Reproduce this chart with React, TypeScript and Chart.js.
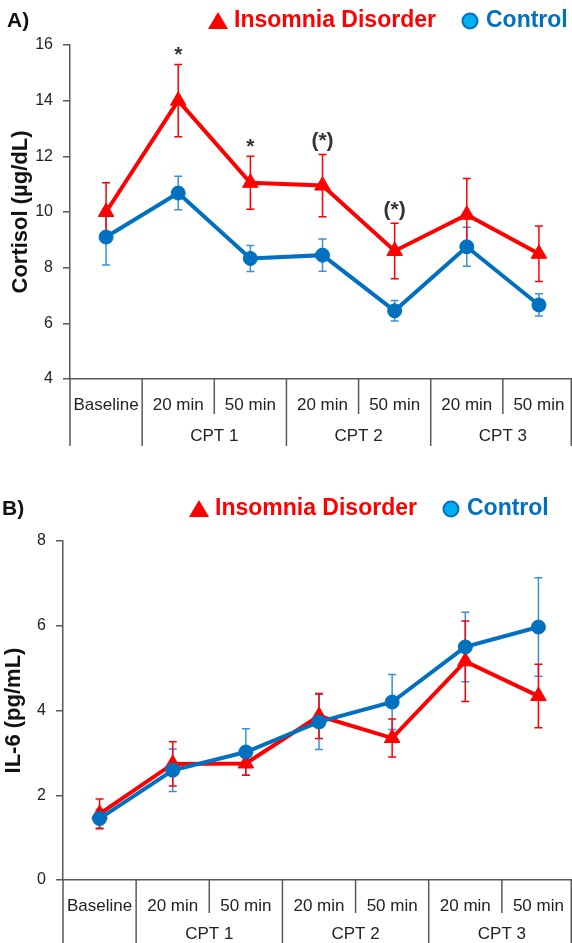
import React, { useEffect, useRef } from "react";
import { Chart, registerables } from "chart.js";

Chart.register(...registerables);

const FONT = "'Liberation Sans', Arial, Helvetica, sans-serif";
Chart.defaults.font.family = FONT;

// ---- data ----
const timepoints = ["Baseline", "20 min", "50 min", "20 min", "50 min", "20 min", "50 min"];
const phases = ["", "CPT 1", "CPT 1", "CPT 2", "CPT 2", "CPT 3", "CPT 3"];

const cortisolInsomnia = [10.0, 14.0, 11.05, 10.95, 8.6, 9.9, 8.5];
const cortisolInsomniaErr = [1.05, 1.3, 0.95, 1.12, 1.0, 1.3, 1.0];
const cortisolControl = [9.1, 10.68, 8.33, 8.45, 6.45, 8.75, 6.66];
const cortisolControlErr = [1.0, 0.6, 0.47, 0.58, 0.37, 0.7, 0.4];
const cortisolSig = ["", "*", "*", "(*)", "(*)", "", ""];
const cortisolRange = [4, 16, 2];

const il6Insomnia = [1.56, 2.74, 2.75, 3.87, 3.35, 5.16, 4.34];
const il6InsomniaErr = [0.35, 0.52, 0.28, 0.53, 0.45, 0.95, 0.75];
const il6Control = [1.45, 2.59, 3.02, 3.73, 4.2, 5.5, 5.97];
const il6ControlErr = [0.22, 0.5, 0.55, 0.65, 0.65, 0.82, 1.16];
const il6Sig = ["", "", "", "", "", "", ""];
const il6Range = [0, 8, 2];

const legendInsomnia = "Insomnia Disorder";
const legendControl = "Control";

// ---- styles ----
const RED = "#ff0000";
const BLUE = "#0070c0";
const BLUE_ERR = "#3d8fd9";
const LEGEND_CIRCLE = "#00b0f0";
const AXIS = "#595959";
const TEXT = "#222222";

type Panel = {
  tag: string;
  yTitle: string;
  insomnia: number[];
  insomniaErr: number[];
  control: number[];
  controlErr: number[];
  sig: string[];
  range: number[];
  height: number;
  padTop: number;
  yWidth: number;
  xHeight: number;
  titlePad: number;
  row1: number;
  row2: number;
  shortEnd: number;
  longEnd: number;
  legendDx: number;
  legendY: number;
  tagX: number;
};

const panels: Panel[] = [
  {
    tag: "A)",
    yTitle: "Cortisol (µg/dL)",
    insomnia: cortisolInsomnia,
    insomniaErr: cortisolInsomniaErr,
    control: cortisolControl,
    controlErr: cortisolControlErr,
    sig: cortisolSig,
    range: cortisolRange,
    height: 470,
    padTop: 45,
    yWidth: 70,
    xHeight: 91,
    titlePad: 8,
    row1: 26,
    row2: 57,
    shortEnd: 35,
    longEnd: 67,
    legendDx: 0,
    legendY: 21,
    tagX: 7,
  },
  {
    tag: "B)",
    yTitle: "IL-6 (pg/mL)",
    insomnia: il6Insomnia,
    insomniaErr: il6InsomniaErr,
    control: il6Control,
    controlErr: il6ControlErr,
    sig: il6Sig,
    range: il6Range,
    height: 473,
    padTop: 71,
    yWidth: 63,
    xHeight: 63,
    titlePad: 1,
    row1: 26,
    row2: 54,
    shortEnd: 33,
    longEnd: 63,
    legendDx: -19,
    legendY: 39,
    tagX: 2,
  },
];

function makeDecor(p: Panel) {
  return {
    id: "panelDecor",
    beforeDatasetsDraw(chart: any) {
      const ctx = chart.ctx;
      const ys = chart.scales.y;
      chart.data.datasets.forEach((ds: any, i: number) => {
        const meta = chart.getDatasetMeta(i);
        ctx.save();
        ctx.strokeStyle = ds.errColor;
        ctx.lineWidth = 1.5;
        meta.data.forEach((el: any, j: number) => {
          const v = ds.data[j];
          const e = ds.errors[j];
          const x = el.x;
          const t = ys.getPixelForValue(v + e);
          const b = ys.getPixelForValue(v - e);
          ctx.beginPath();
          ctx.moveTo(x, t);
          ctx.lineTo(x, b);
          ctx.moveTo(x - 4, t);
          ctx.lineTo(x + 4, t);
          ctx.moveTo(x - 4, b);
          ctx.lineTo(x + 4, b);
          ctx.stroke();
        });
        ctx.restore();
      });
    },
    afterDraw(chart: any) {
      const ctx = chart.ctx;
      const ca = chart.chartArea;
      const xs = chart.scales.x;
      const ys = chart.scales.y;
      const n = timepoints.length;
      ctx.save();

      // category separators
      ctx.strokeStyle = AXIS;
      ctx.lineWidth = 1.5;
      for (let i = 0; i <= n; i++) {
        let px =
          i === 0
            ? ca.left
            : i === n
            ? ca.right
            : (xs.getPixelForValue(i - 1) + xs.getPixelForValue(i)) / 2;
        px = Math.min(px, 571.25);
        const long = i === 0 || i === n || phases[i] !== phases[i - 1];
        ctx.beginPath();
        ctx.moveTo(px, ca.bottom);
        ctx.lineTo(px, ca.bottom + (long ? p.longEnd : p.shortEnd));
        ctx.stroke();
      }

      // first row labels
      ctx.fillStyle = TEXT;
      ctx.font = `17px ${FONT}`;
      ctx.textAlign = "center";
      ctx.textBaseline = "middle";
      timepoints.forEach((t, i) => {
        ctx.fillText(t, xs.getPixelForValue(i), ca.bottom + p.row1);
      });
      // group labels
      const groups = Array.from(new Set(phases.filter((g) => g)));
      groups.forEach((g) => {
        const idx = phases.map((ph, i) => (ph === g ? i : -1)).filter((i) => i >= 0);
        const cx = (xs.getPixelForValue(idx[0]) + xs.getPixelForValue(idx[idx.length - 1])) / 2;
        ctx.fillText(g, cx, ca.bottom + p.row2);
      });

      // significance marks above insomnia error bars
      ctx.fillStyle = "#333333";
      ctx.font = `bold 21px ${FONT}`;
      ctx.textBaseline = "alphabetic";
      p.sig.forEach((s, i) => {
        if (!s) return;
        const top = ys.getPixelForValue(p.insomnia[i] + p.insomniaErr[i]);
        ctx.fillText(s, xs.getPixelForValue(i), top - (s.length > 1 ? 7 : 3));
      });

      // panel tag
      ctx.fillStyle = "#111111";
      ctx.font = `bold 21px ${FONT}`;
      ctx.textAlign = "left";
      ctx.textBaseline = "middle";
      ctx.fillText(p.tag, p.tagX, p.legendY);

      // legend
      const dx = p.legendDx;
      const ly = p.legendY;
      ctx.fillStyle = RED;
      ctx.beginPath();
      ctx.moveTo(218 + dx, ly - 9);
      ctx.lineTo(228 + dx, ly + 8);
      ctx.lineTo(208 + dx, ly + 8);
      ctx.closePath();
      ctx.fill();
      ctx.font = `bold 23px ${FONT}`;
      ctx.fillText(legendInsomnia, 234 + dx, ly);

      ctx.beginPath();
      ctx.arc(470 + dx, ly, 7.5, 0, Math.PI * 2);
      ctx.fillStyle = LEGEND_CIRCLE;
      ctx.fill();
      ctx.strokeStyle = BLUE;
      ctx.lineWidth = 2;
      ctx.stroke();
      ctx.fillStyle = BLUE;
      ctx.fillText(legendControl, 486 + dx, ly);

      ctx.restore();
    },
  };
}

function buildChart(canvas: HTMLCanvasElement, p: Panel) {
  const [min, max, step] = p.range;
  return new Chart(canvas, {
    type: "line",
    data: {
      labels: timepoints,
      datasets: [
        {
          label: legendControl,
          data: p.control,
          errors: p.controlErr,
          errColor: BLUE_ERR,
          borderColor: BLUE,
          backgroundColor: BLUE,
          pointBackgroundColor: BLUE,
          pointBorderColor: BLUE,
          pointStyle: "circle",
          pointRadius: 7,
          pointBorderWidth: 1,
          borderWidth: 4,
          tension: 0,
          clip: false,
        } as any,
        {
          label: legendInsomnia,
          data: p.insomnia,
          errors: p.insomniaErr,
          errColor: RED,
          borderColor: RED,
          backgroundColor: RED,
          pointBackgroundColor: RED,
          pointBorderColor: RED,
          pointStyle: "triangle",
          pointRadius: 9,
          pointBorderWidth: 1,
          borderWidth: 4,
          tension: 0,
          clip: false,
        } as any,
      ],
    },
    options: {
      responsive: false,
      animation: false,
      devicePixelRatio: 1,
      events: [],
      layout: { autoPadding: false, padding: { top: p.padTop, left: 0, right: 0, bottom: 0 } },
      plugins: {
        legend: { display: false },
        tooltip: { enabled: false },
      },
      scales: {
        x: {
          type: "category",
          offset: true,
          grid: { display: false },
          border: { display: true, color: AXIS, width: 1.5 },
          ticks: { display: false },
          afterFit: (s: any) => {
            s.height = p.xHeight;
          },
        },
        y: {
          min,
          max,
          ticks: { stepSize: step, font: { size: 16 }, color: TEXT, padding: 10 },
          grid: {
            display: true,
            drawOnChartArea: false,
            drawTicks: true,
            tickLength: 7,
            color: AXIS,
            lineWidth: 1.5,
          },
          border: { display: true, color: AXIS, width: 1.5 },
          title: {
            display: true,
            text: p.yTitle,
            color: "#111111",
            font: { size: 22, weight: "bold" },
            padding: { top: p.titlePad, bottom: 0 },
          },
          afterFit: (s: any) => {
            s.width = p.yWidth;
          },
        },
      },
    } as any,
    plugins: [makeDecor(p) as any],
  });
}

function PanelChart({ p }: { p: Panel }) {
  const ref = useRef<HTMLCanvasElement | null>(null);
  useEffect(() => {
    if (!ref.current) return;
    const chart = buildChart(ref.current, p);
    return () => chart.destroy();
  }, [p]);
  return (
    <canvas
      ref={ref}
      width={575}
      height={p.height}
      style={{ display: "block", width: 575, height: p.height }}
    />
  );
}

export default function App() {
  return (
    <div
      style={{
        position: "absolute",
        left: 0,
        top: 0,
        width: 572,
        height: 943,
        overflow: "hidden",
        background: "#ffffff",
      }}
    >
      {panels.map((p) => (
        <PanelChart key={p.tag} p={p} />
      ))}
    </div>
  );
}
